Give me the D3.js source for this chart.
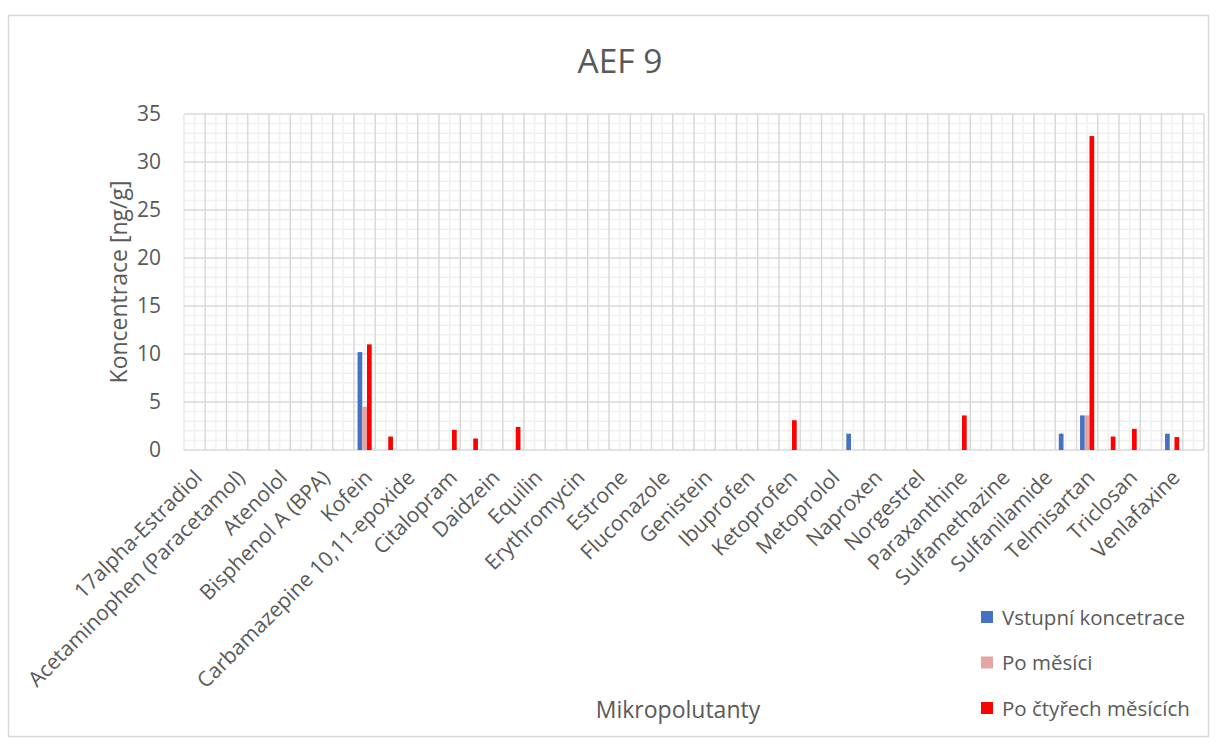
<!DOCTYPE html>
<html>
<head>
<meta charset="utf-8">
<script src="https://cdn.jsdelivr.net/npm/d3@7"></script>
<style>
  body { margin: 0; background: #fff; }
  svg { font-family: "Open Sans", sans-serif; }
  .tick text { fill: #595959; }
</style>
</head>
<body>
<div id="chart"></div>
<script>
// Categories (48 in total, Excel shows only every other label)
const categories = [
  "17alpha-Estradiol", "17alpha-Ethinylestradiol",
  "Acetaminophen (Paracetamol)", "Androstenedione",
  "Atenolol", "Azithromycin",
  "Bisphenol A (BPA)", "Bisphenol S (BPS)",
  "Kofein", "Carbamazepine",
  "Carbamazepine 10,11-epoxide", "Ciprofloxacin",
  "Citalopram", "Clarithromycin",
  "Daidzein", "Diclofenac",
  "Equilin", "Erythromycin-H2O",
  "Erythromycin", "Estriol",
  "Estrone", "Fluoxetine",
  "Fluconazole", "Gemfibrozil",
  "Genistein", "Hydrochlorothiazide",
  "Ibuprofen", "Irbesartan",
  "Ketoprofen", "Losartan",
  "Metoprolol", "Mirtazapine",
  "Naproxen", "Norethindrone",
  "Norgestrel", "Oxazepam",
  "Paraxanthine", "Progesterone",
  "Sulfamethazine", "Sulfamethoxazole",
  "Sulfanilamide", "Sulfapyridine",
  "Telmisartan", "Tramadol",
  "Triclosan", "Trimethoprim",
  "Venlafaxine", "Valsartan"
];

// Series values [ng/g], one per category (10 per row)
const vstupni = [
  0, 0, 0, 0, 0, 0, 0, 0, 10.2, 0,
  0, 0, 0, 0, 0, 0, 0, 0, 0, 0,
  0, 0, 0, 0, 0, 0, 0, 0, 0, 0,
  0, 1.7, 0, 0, 0, 0, 0, 0, 0, 0,
  0, 1.7, 3.6, 0, 0, 0, 1.7, 0
];
const poMesici = [
  0, 0, 0, 0, 0, 0, 0, 0, 4.5, 0,
  0, 0, 0, 0, 0, 0, 0, 0, 0, 0,
  0, 0, 0, 0, 0, 0, 0, 0, 0, 0,
  0, 0, 0, 0, 0, 0, 0, 0, 0, 0,
  0, 0, 3.6, 0, 0, 0, 0, 0
];
const poCtyrech = [
  0, 0, 0, 0, 0, 0, 0, 0, 11.0, 1.4,
  0, 0, 2.1, 1.2, 0, 2.4, 0, 0, 0, 0,
  0, 0, 0, 0, 0, 0, 0, 0, 3.1, 0,
  0, 0, 0, 0, 0, 0, 3.6, 0, 0, 0,
  0, 0, 32.7, 1.4, 2.2, 0, 1.35, 0
];

const seriesNames = ["Vstupní koncetrace", "Po měsíci", "Po čtyřech měsících"];
const seriesColors = ["#4472C4", "#E6A5A5", "#FF0000"];
const yTicks = [0, 5, 10, 15, 20, 25, 30, 35];

// Dimensions
const width = 1218;
const height = 749;
const plot = {left: 184, right: 1204, top: 114, bottom: 450};

const svg = d3.select("#chart")
  .append("svg")
    .attr("width", width)
    .attr("height", height);

// chart area border
svg.append("rect")
  .attr("x", 8.5).attr("y", 15.5)
  .attr("width", 1200).attr("height", 721)
  .attr("fill", "#fff")
  .attr("stroke", "#d9d9d9")
  .attr("stroke-width", 1.5);

// Scales
const x = d3.scaleBand()
  .domain(categories)
  .range([plot.left, plot.right])
  .padding(0);

const bw = x.bandwidth();
const xSub = d3.scaleBand()
  .domain(seriesNames)
  .range([bw * 0.167, bw * 0.833]);

const y = d3.scaleLinear()
  .domain([0, 35])
  .range([plot.bottom, plot.top]);

// Gridlines - minor first
const grid = svg.append("g");
grid.selectAll(".hminor")
  .data(d3.range(0, 36).filter(v => v % 5 !== 0))
  .join("line")
    .attr("x1", plot.left).attr("x2", plot.right)
    .attr("y1", d => y(d)).attr("y2", d => y(d))
    .attr("stroke", "#f0f0f0").attr("stroke-width", 1.5);

grid.selectAll(".vminor")
  .data(categories)
  .join("line")
    .attr("x1", d => x(d) + bw / 2).attr("x2", d => x(d) + bw / 2)
    .attr("y1", plot.top).attr("y2", plot.bottom)
    .attr("stroke", "#f0f0f0").attr("stroke-width", 1.5);

grid.append("line")
  .attr("x1", plot.left).attr("x2", plot.left)
  .attr("y1", plot.top).attr("y2", plot.bottom)
  .attr("stroke", "#e8e8e8").attr("stroke-width", 1.5);

// Major
grid.selectAll(".vmajor")
  .data(categories)
  .join("line")
    .attr("x1", d => x(d) + bw).attr("x2", d => x(d) + bw)
    .attr("y1", plot.top).attr("y2", plot.bottom)
    .attr("stroke", "#d9d9d9").attr("stroke-width", 1.5);

grid.selectAll(".hmajor")
  .data(yTicks)
  .join("line")
    .attr("x1", plot.left).attr("x2", plot.right)
    .attr("y1", d => y(d)).attr("y2", d => y(d))
    .attr("stroke", "#d9d9d9").attr("stroke-width", 1.5);

// Bars
const allSeries = [vstupni, poMesici, poCtyrech];
allSeries.forEach((vals, si) => {
  svg.append("g")
    .selectAll("rect")
    .data(vals.map((v, i) => ({cat: categories[i], v})).filter(d => d.v > 0))
    .join("rect")
      .attr("x", d => x(d.cat) + xSub(seriesNames[si]))
      .attr("width", xSub.bandwidth())
      .attr("y", d => y(d.v))
      .attr("height", d => y(0) - y(d.v))
      .attr("fill", seriesColors[si]);
});

// y-axis
const yAxis = d3.axisLeft(y).tickValues(yTicks).tickSize(0).tickPadding(23);
svg.append("g")
  .attr("transform", `translate(${plot.left}, 0)`)
  .call(yAxis)
  .call(g => g.select(".domain").remove())
  .selectAll("text")
    .attr("font-size", 21)
    .attr("font-family", "Open Sans");

// x-axis, every other label
const xAxis = d3.axisBottom(x)
  .tickValues(categories.filter((d, i) => i % 2 === 0))
  .tickSize(0);
svg.append("g")
  .attr("transform", `translate(0, ${plot.bottom})`)
  .call(xAxis)
  .call(g => g.select(".domain").remove())
  .selectAll("text")
    .attr("font-size", 21)
    .attr("font-family", "Open Sans")
    .attr("text-anchor", "end")
    .attr("dy", null)
    .attr("y", 0)
    .attr("transform", "translate(9, 29) rotate(-45)");

// Title
svg.append("text")
  .attr("x", 620).attr("y", 73)
  .attr("text-anchor", "middle")
  .attr("font-size", 33.5)
  .attr("fill", "#595959")
  .text("AEF 9");

// Axis titles
svg.append("text")
  .attr("transform", `translate(127, ${(plot.top + plot.bottom) / 2}) rotate(-90)`)
  .attr("text-anchor", "middle")
  .attr("font-size", 23)
  .attr("fill", "#595959")
  .text("Koncentrace [ng/g]");

svg.append("text")
  .attr("x", 678).attr("y", 718)
  .attr("text-anchor", "middle")
  .attr("font-size", 23)
  .attr("fill", "#595959")
  .text("Mikropolutanty");

// Legend
const legend = svg.selectAll(".legend")
  .data(seriesNames)
  .join("g")
    .attr("transform", (d, i) => `translate(981, ${611 + i * 45.5})`);
legend.append("rect")
  .attr("width", 12).attr("height", 12)
  .attr("fill", (d, i) => seriesColors[i]);
legend.append("text")
  .attr("x", 21).attr("y", 13.5)
  .attr("font-size", 20.5)
  .attr("fill", "#595959")
  .text(d => d);
</script>
</body>
</html>
